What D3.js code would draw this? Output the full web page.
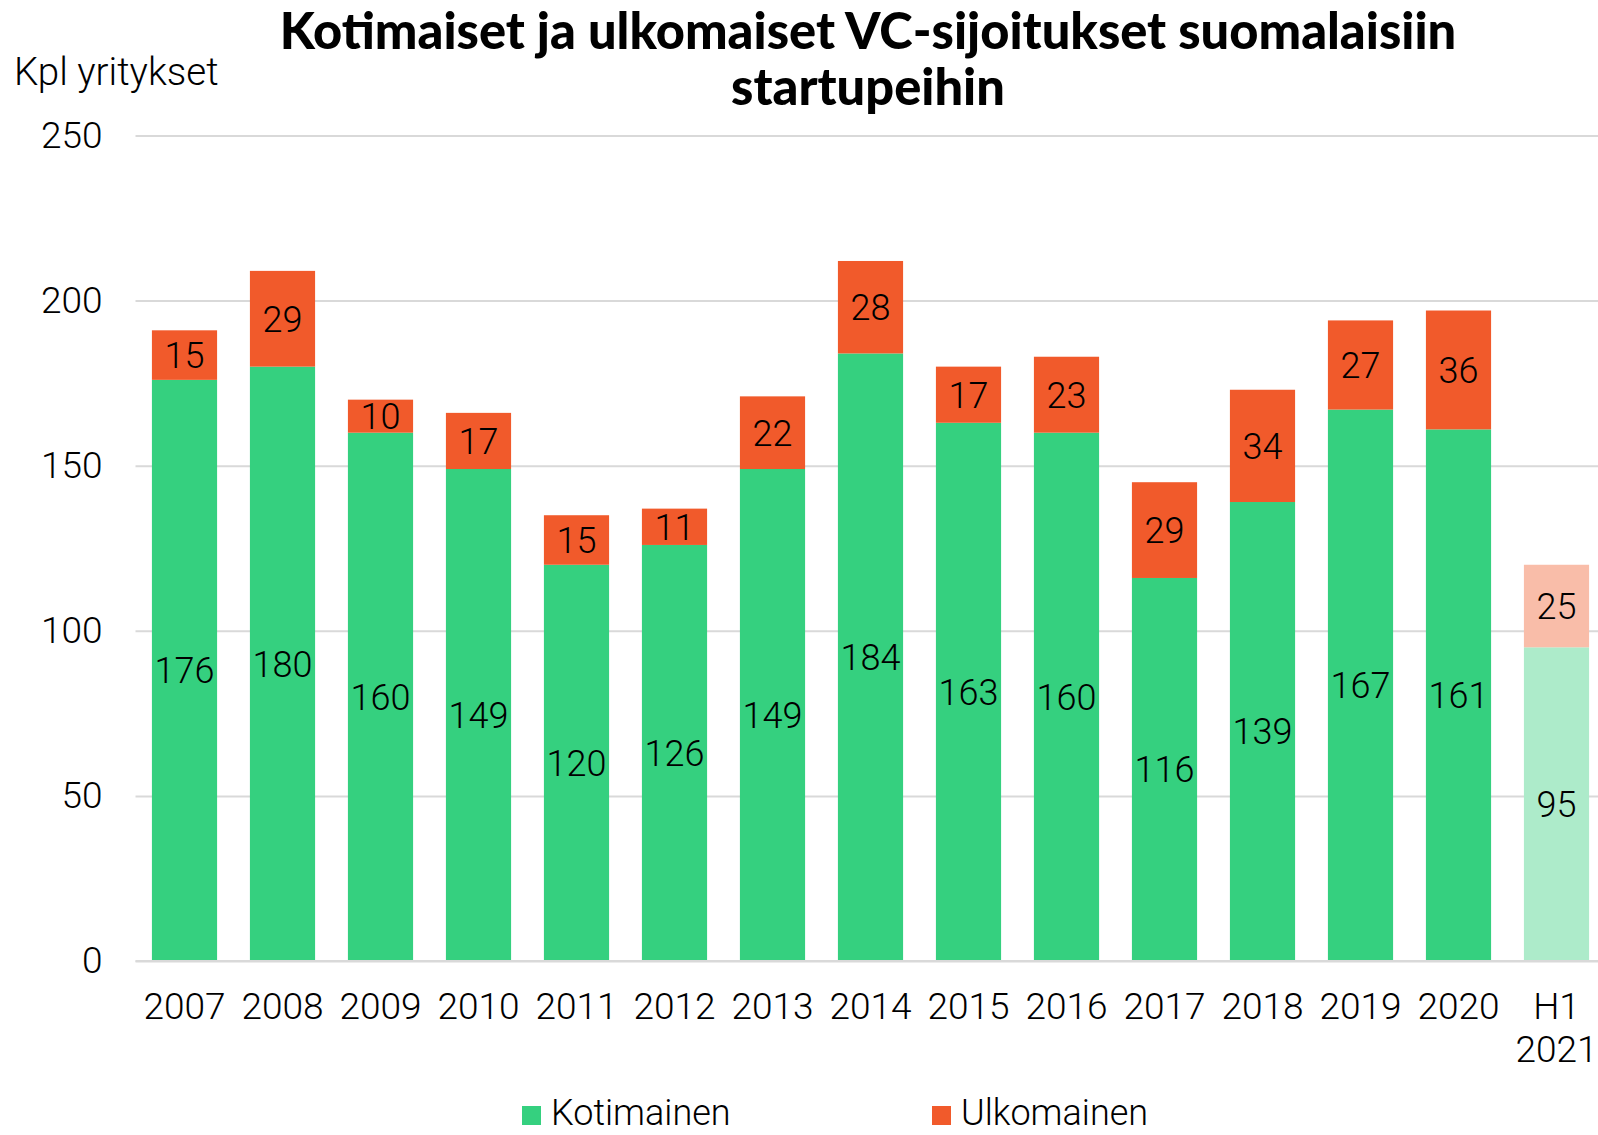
<!DOCTYPE html>
<html><head><meta charset="utf-8">
<script src="https://cdn.jsdelivr.net/npm/d3@7"></script>
<style>
html,body{margin:0;padding:0;background:#fff;}
svg{display:block;}
</style></head>
<body>
<svg id="chart" width="1598" height="1135"></svg>
<script>
const categories = ["2007","2008","2009","2010","2011","2012","2013","2014","2015","2016","2017","2018","2019","2020","H1 2021"];
const kotimainen = [176,180,160,149,120,126,149,184,163,160,116,139,167,161,95];
const ulkomainen = [15,29,10,17,15,11,22,28,17,23,29,34,27,36,25];
const yTicks = [0,50,100,150,200,250];
const seriesNames = ["Kotimainen","Ulkomainen"];
const titleLines = ["Kotimaiset ja ulkomaiset VC-sijoitukset suomalaisiin","startupeihin"];
const yTitle = "Kpl yritykset";

const W = 1598, H = 1135;
const colors = {Kotimainen:"#35D07F", Ulkomainen:"#F15A2B"};
const lightColors = {Kotimainen:"#ADEBCA", Ulkomainen:"#F9BDA9"};
const FONT = "Roboto, 'Open Sans', sans-serif";

const svg = d3.select("#chart");
const x = d3.scaleBand().domain(categories).range([135.5, 1605.5]).paddingInner(0.335).paddingOuter(0.1675);
const y = d3.scaleLinear().domain([0,250]).range([961, 135.5]);

// gridlines + y axis
const yAxis = svg.append("g").attr("transform","translate(135.5,0)")
  .call(d3.axisLeft(y).tickValues(yTicks).tickSize(-(W-135.5)).tickPadding(33));
yAxis.select(".domain").remove();
yAxis.selectAll("line").attr("stroke","#D9D9D9").attr("stroke-width",2);
yAxis.selectAll("text").attr("font-family",FONT).attr("font-weight",300).attr("font-size",37).attr("fill","#000");

// stacked data
const stackData = categories.map((c,i)=>({cat:c, Kotimainen:kotimainen[i], Ulkomainen:ulkomainen[i]}));
const stacked = d3.stack().keys(seriesNames)(stackData);

const g = svg.append("g");
stacked.forEach(layer=>{
  const key = layer.key;
  g.selectAll(null).data(layer).enter().append("rect")
    .attr("x", d=>x(d.data.cat))
    .attr("width", x.bandwidth())
    .attr("y", d=>y(d[1]))
    .attr("height", d=>y(d[0])-y(d[1]))
    .attr("fill", d=> d.data.cat.startsWith("H1") ? lightColors[key] : colors[key]);
  g.selectAll(null).data(layer).enter().append("text")
    .attr("x", d=>x(d.data.cat)+x.bandwidth()/2)
    .attr("y", d=>(y(d[0])+y(d[1]))/2)
    .attr("dy","0.36em")
    .attr("text-anchor","middle")
    .attr("font-family",FONT).attr("font-weight",300).attr("font-size",36).attr("fill","#000")
    .text(d=>d.data[key]);
});

// x axis
const xAxis = svg.append("g").attr("transform","translate(0,961)")
  .call(d3.axisBottom(x).tickSize(0).tickPadding(0));
xAxis.select(".domain").attr("stroke","#D9D9D9").attr("stroke-width",2).attr("d","M135.5,0H1598");
xAxis.selectAll("text").each(function(d){
  const t = d3.select(this);
  t.text(null).attr("y",0).attr("dy",null)
    .attr("font-family",FONT).attr("font-weight",300).attr("font-size",37).attr("fill","#000");
  d.split(" ").forEach((part,i)=>{
    t.append("tspan").attr("x",0).attr("y",58+i*43).text(part);
  });
});

// title
const title = svg.append("g");
const tl = titleLines.map((line,i)=>title.append("text")
  .attr("x",868).attr("y",49+i*56).attr("text-anchor","middle")
  .attr("font-family","Lato, 'Open Sans', sans-serif").attr("font-weight",900)
  .attr("font-size",46).attr("fill","#000").text(line));
const w0 = tl[0].node().getComputedTextLength();
const fs = 46*1177/w0;
tl.forEach(t=>t.attr("font-size",fs));

// y title
svg.append("text").attr("x",14).attr("y",85)
  .attr("font-family",FONT).attr("font-weight",300).attr("font-size",38.5).attr("fill","#000").text(yTitle);

// legend
const legendX = [522, 932];
seriesNames.forEach((s,i)=>{
  svg.append("rect").attr("x",legendX[i]).attr("y",1106).attr("width",19).attr("height",19).attr("fill",colors[s]);
  svg.append("text").attr("x",legendX[i]+29).attr("y",1125)
    .attr("font-family",FONT).attr("font-weight",300).attr("font-size",36).attr("fill","#000").text(s);
});
</script>
</body></html>
